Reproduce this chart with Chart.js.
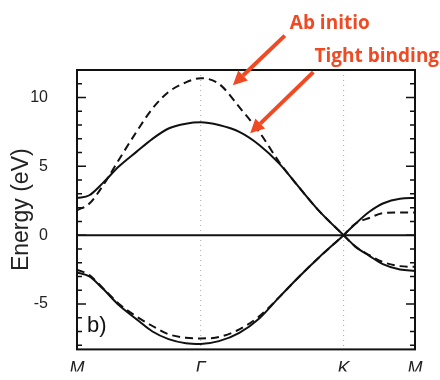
<!DOCTYPE html>
<html>
<head>
    <title>Graphene band structure</title>
    <script src="https://cdn.jsdelivr.net/npm/chart.js"></script>
    <style>
        html, body { margin: 0; padding: 0; background: #fff; }
        #wrap { width: 440px; height: 380px; }
    </style>
</head>
<body>
    <div id="wrap"><canvas id="bandChart"></canvas></div>
    <script>
        // path along the Brillouin zone: M -> Gamma -> K -> M
        const kPath = [0, 0.10, 0.21, 0.34, 0.48, 0.61, 0.74, 0.88, 1.0,
                       1.147, 1.312, 1.473, 1.635, 1.797, 1.958, 2.155,
                       2.253, 2.363, 2.472, 2.611, 2.732];
        const kTicks = [0, 1, 2.155, 2.732];
        const kLabels = ['M', 'Γ', 'K', 'M'];
        const energyTicks = [-5, 0, 5, 10];

        // bands (eV)
        const tightUpper = [2.7, 2.9, 3.8, 5.0, 6.05, 7.0, 7.75, 8.1, 8.2,
                            8.0, 7.5, 6.55, 5.2, 3.45, 1.75, 0,
                            0.85, 1.7, 2.3, 2.65, 2.7];
        const tightLower = [-2.7, -3.0, -3.9, -5.1, -6.1, -7.0, -7.55, -7.85, -7.9,
                            -7.7, -7.1, -6.05, -4.5, -3.0, -1.6, 0,
                            -0.85, -1.5, -2.1, -2.5, -2.6];
        const abUpper = [1.8, 2.3, 3.6, 5.5, 7.5, 9.2, 10.4, 11.1, 11.4,
                         11.0, 9.3, 7.5, 5.3, 3.45, 1.75, 0,
                         0.85, 1.25, 1.6, 1.65, 1.65];
        const abLower = [-2.5, -2.9, -3.85, -5.0, -5.9, -6.6, -7.2, -7.45, -7.5,
                         -7.4, -6.85, -5.9, -4.5, -3.0, -1.6, 0,
                         -0.85, -1.45, -1.95, -2.25, -2.3];

        const kIndex = 15; // bands cross linearly at K
        function branch(a, b) {
            return a.slice(0, kIndex + 1).concat(b.slice(kIndex + 1))
                .map((e, i) => ({ x: kPath[i], y: e }));
        }

        const notes = [
            { text: 'Ab initio', x: 1.72, y: 15.4, from: [1.68, 14.5], to: [1.26, 10.9] },
            { text: 'Tight binding', x: 1.92, y: 13.0, from: [1.91, 11.85], to: [1.40, 7.4] }
        ];

        function line(data, dashed) {
            return {
                data: data,
                borderColor: '#111',
                borderWidth: 2,
                borderDash: dashed ? [8, 5] : [],
                pointRadius: 0,
                fill: false,
                cubicInterpolationMode: 'monotone'
            };
        }

        const framePlugin = {
            id: 'frame',
            beforeDatasetsDraw(chart) {
                const { ctx, chartArea: a, scales: { x, y } } = chart;
                ctx.save();
                // dotted verticals at Gamma and K
                ctx.strokeStyle = 'rgba(0,0,0,0.35)';
                ctx.lineWidth = 1;
                ctx.setLineDash([1, 4]);
                [kTicks[1], kTicks[2]].forEach(v => {
                    const px = x.getPixelForValue(v);
                    ctx.beginPath();
                    ctx.moveTo(px, a.top);
                    ctx.lineTo(px, a.bottom);
                    ctx.stroke();
                });
                ctx.setLineDash([]);
                // zero line
                ctx.strokeStyle = '#111';
                ctx.lineWidth = 2;
                const y0 = y.getPixelForValue(0);
                ctx.beginPath();
                ctx.moveTo(a.left, y0);
                ctx.lineTo(a.right, y0);
                ctx.stroke();
                // frame
                ctx.strokeRect(a.left, a.top, a.right - a.left, a.bottom - a.top);
                // inward ticks on both sides
                ctx.lineWidth = 1.5;
                for (let v = -8; v <= 12; v++) {
                    const py = y.getPixelForValue(v);
                    const len = v % 5 === 0 ? 9 : 5;
                    ctx.beginPath();
                    ctx.moveTo(a.left, py);
                    ctx.lineTo(a.left + len, py);
                    ctx.moveTo(a.right, py);
                    ctx.lineTo(a.right - len, py);
                    ctx.stroke();
                }
                // panel label
                ctx.fillStyle = '#111';
                ctx.font = '22px "Liberation Sans", Arial, sans-serif';
                ctx.textBaseline = 'middle';
                ctx.fillText('b)', x.getPixelForValue(0.08), y.getPixelForValue(-6.6));
                ctx.restore();
            },
            afterDraw(chart) {
                const { ctx, scales: { x, y } } = chart;
                ctx.save();
                const red = '#ef4a24';
                notes.forEach(n => {
                    const x1 = x.getPixelForValue(n.from[0]), y1 = y.getPixelForValue(n.from[1]);
                    const x2 = x.getPixelForValue(n.to[0]), y2 = y.getPixelForValue(n.to[1]);
                    const ang = Math.atan2(y2 - y1, x2 - x1);
                    const head = 14;
                    const bx = x2 - head * Math.cos(ang), by = y2 - head * Math.sin(ang);
                    ctx.strokeStyle = red;
                    ctx.fillStyle = red;
                    ctx.lineWidth = 4;
                    ctx.beginPath();
                    ctx.moveTo(x1, y1);
                    ctx.lineTo(bx, by);
                    ctx.stroke();
                    ctx.beginPath();
                    ctx.moveTo(x2, y2);
                    ctx.lineTo(bx + 7 * Math.sin(ang), by - 7 * Math.cos(ang));
                    ctx.lineTo(bx - 7 * Math.sin(ang), by + 7 * Math.cos(ang));
                    ctx.closePath();
                    ctx.fill();
                    ctx.font = 'bold 19px "Open Sans", sans-serif';
                    ctx.textBaseline = 'middle';
                    ctx.textAlign = 'left';
                    ctx.fillText(n.text, x.getPixelForValue(n.x), y.getPixelForValue(n.y));
                });
                ctx.restore();
            }
        };

        new Chart(document.getElementById('bandChart'), {
            type: 'line',
            data: {
                datasets: [
                    line(branch(tightUpper, tightLower), false),
                    line(branch(tightLower, tightUpper), false),
                    line(branch(abUpper, abLower), true),
                    line(branch(abLower, abUpper), true)
                ]
            },
            options: {
                responsive: true,
                maintainAspectRatio: false,
                animation: false,
                layout: { padding: { top: 70, right: 25, left: 0, bottom: 0 } },
                plugins: { legend: { display: false }, tooltip: { enabled: false } },
                scales: {
                    x: {
                        type: 'linear',
                        min: 0,
                        max: 2.732,
                        grid: { display: false },
                        border: { display: false },
                        afterBuildTicks: s => { s.ticks = kTicks.map(v => ({ value: v })); },
                        afterFit: s => { s.height = 22; },
                        ticks: {
                            padding: 1,
                            maxRotation: 0,
                            autoSkip: false,
                            color: '#222',
                            font: { family: '"Liberation Sans", Arial, sans-serif', size: 18, style: 'italic' },
                            callback: (v, i) => kLabels[i]
                        }
                    },
                    y: {
                        min: -8.3,
                        max: 12,
                        grid: { display: false },
                        border: { display: false },
                        afterBuildTicks: s => { s.ticks = energyTicks.map(v => ({ value: v })); },
                        afterFit: s => { s.width = 77; },
                        ticks: {
                            padding: 21,
                            color: '#222',
                            font: { family: '"Liberation Sans", Arial, sans-serif', size: 16 }
                        },
                        title: {
                            display: true,
                            text: 'Energy (eV)',
                            color: '#222',
                            padding: { top: 8, bottom: 0 },
                            font: { family: '"Liberation Sans", Arial, sans-serif', size: 23 }
                        }
                    }
                }
            },
            plugins: [framePlugin]
        });
    </script>
</body>
</html>
